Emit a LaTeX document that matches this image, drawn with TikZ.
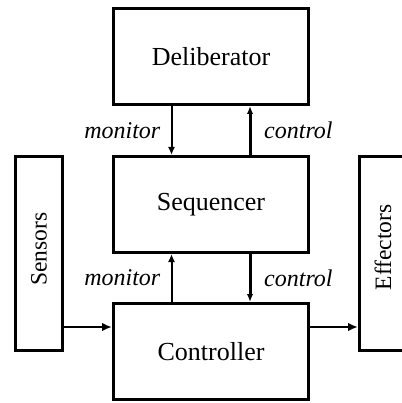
\documentclass[tikz,border=0pt]{standalone}
\usepackage{fontspec}
\setmainfont{Liberation Serif}
\usetikzlibrary{arrows.meta,calc}

\tikzset{
  layer/.style={draw, line width=3pt, rectangle, inner sep=0pt,
    minimum width=195pt, minimum height=96pt,
    font=\fontsize{26}{30}\selectfont},
  sidebox/.style={draw, line width=3pt, rectangle, inner sep=0pt, rotate=90,
    minimum width=194pt, minimum height=47pt,
    font=\fontsize{23.5}{28}\selectfont},
  monline/.style={line width=2pt, -{Latex[length=8pt,width=7pt]}},
  ctlline/.style={line width=3pt, -{Latex[length=8pt,width=6.5pt]}},
  sigline/.style={line width=2.2pt, -{Latex[length=10pt,width=8.5pt]}},
  flowlabel/.style={font=\fontsize{24}{28}\selectfont\itshape, inner sep=0pt}
}

\begin{document}
\begin{tikzpicture}[x=1pt,y=1pt]
  \useasboundingbox (0,0) rectangle (401,-403);

  % the three layers
  \node[layer] (del) at (211,-56.5)  {Deliberator};
  \node[layer] (seq) at (211,-204.5) {Sequencer};
  \node[layer] (ctl) at (211,-351.5) {Controller};

  % sensors and effectors at the sides (text set a little above centre)
  \node[sidebox] (sens) at (39,-253.5)  {\hspace{9pt}Sensors};
  \node[sidebox] (eff)  at (383,-253.5) {\hspace{12pt}Effectors};

  % attachment points on the layers
  \coordinate (dmon) at ([xshift=-39.5pt]del.south);
  \coordinate (dctl) at ([xshift=39pt]del.south);
  \coordinate (smonb) at ([xshift=-39.5pt]seq.south);
  \coordinate (sctlb) at ([xshift=39pt]seq.south);
  \coordinate (cin)  at ([yshift=-25pt]ctl.north west);
  \coordinate (cout) at ([yshift=-25pt]ctl.north east);

  % deliberator <-> sequencer
  \draw[monline] (dmon) -- (dmon |- seq.north);
  \draw[ctlline] (dctl |- seq.north) -- (dctl);
  \node[flowlabel, anchor=east] (m1) at ($(dmon)!0.5!(dmon |- seq.north)+(-11,0)$) {monitor};
  \node[flowlabel, anchor=west] (c1) at ($(dctl)!0.5!(dctl |- seq.north)+(14,0)$) {control};

  % sequencer <-> controller
  \draw[monline] (smonb |- ctl.north) -- (smonb);
  \draw[ctlline] (sctlb) -- (sctlb |- ctl.north);
  \node[flowlabel, anchor=east] (m2) at ($(smonb)!0.5!(smonb |- ctl.north)+(-11,0)$) {monitor};
  \node[flowlabel, anchor=west] (c2) at ($(sctlb)!0.5!(sctlb |- ctl.north)+(14,0)$) {control};

  % sensing and acting
  \draw[sigline] (sens.south |- cin) -- (cin);
  \draw[sigline] (cout) -- (eff.north |- cout);
\end{tikzpicture}
\end{document}
